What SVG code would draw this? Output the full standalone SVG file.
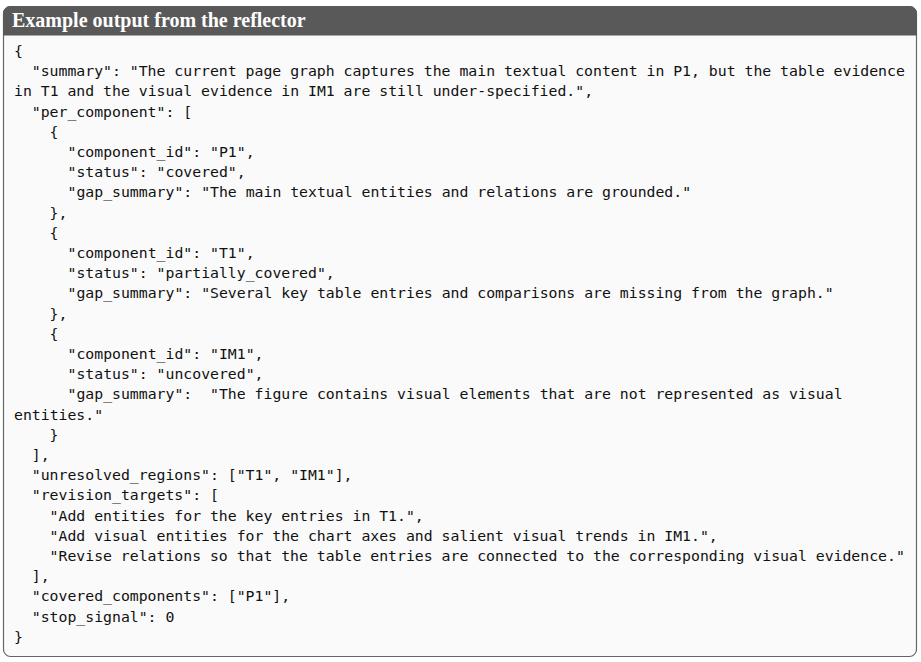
<svg xmlns="http://www.w3.org/2000/svg" width="921" height="662" viewBox="0 0 921 662">
<style>
.c{font-family:"DejaVu Sans Mono",monospace;font-size:14.8px;fill:#111}
.h{font-family:"Liberation Serif",serif;font-weight:bold;font-size:20px;fill:#fff}
</style>
<rect width="921" height="662" fill="#fff"/>
<g id="box">
<rect x="3.5" y="6.5" width="913" height="650" rx="7" fill="#fafafa" stroke="#666" stroke-width="1.2"/>
<path d="M3.5 35 V13.5 a7 7 0 0 1 7 -7 H909.5 a7 7 0 0 1 7 7 V35 Z" fill="#595959" stroke="#595959"/>
<text class="h" x="12" y="27">Example output from the reflector</text>
</g>
<g id="code" class="c">
<text x="14" y="56">{</text>
<text x="31.8" y="76.2">"summary": "The current page graph captures the main textual content in P1, but the table evidence</text>
<text x="14" y="96.4">in T1 and the visual evidence in IM1 are still under-specified.",</text>
<text x="31.8" y="116.6">"per_component": [</text>
<text x="49.6" y="136.8">{</text>
<text x="67.5" y="157">"component_id": "P1",</text>
<text x="67.5" y="177.2">"status": "covered",</text>
<text x="67.5" y="197.4">"gap_summary": "The main textual entities and relations are grounded."</text>
<text x="49.6" y="217.6">},</text>
<text x="49.6" y="237.8">{</text>
<text x="67.5" y="258">"component_id": "T1",</text>
<text x="67.5" y="278.2">"status": "partially_covered",</text>
<text x="67.5" y="298.4">"gap_summary": "Several key table entries and comparisons are missing from the graph."</text>
<text x="49.6" y="318.6">},</text>
<text x="49.6" y="338.8">{</text>
<text x="67.5" y="359">"component_id": "IM1",</text>
<text x="67.5" y="379.2">"status": "uncovered",</text>
<text x="67.5" y="399.4">"gap_summary":&#160; "The figure contains visual elements that are not represented as visual</text>
<text x="14" y="419.6">entities."</text>
<text x="49.6" y="439.8">}</text>
<text x="31.8" y="460">],</text>
<text x="31.8" y="480.2">"unresolved_regions": ["T1", "IM1"],</text>
<text x="31.8" y="500.4">"revision_targets": [</text>
<text x="49.6" y="520.6">"Add entities for the key entries in T1.",</text>
<text x="49.6" y="540.8">"Add visual entities for the chart axes and salient visual trends in IM1.",</text>
<text x="49.6" y="561">"Revise relations so that the table entries are connected to the corresponding visual evidence."</text>
<text x="31.8" y="581.2">],</text>
<text x="31.8" y="601.4">"covered_components": ["P1"],</text>
<text x="31.8" y="621.6">"stop_signal": 0</text>
<text x="14" y="641.8">}</text>
</g>
</svg>
